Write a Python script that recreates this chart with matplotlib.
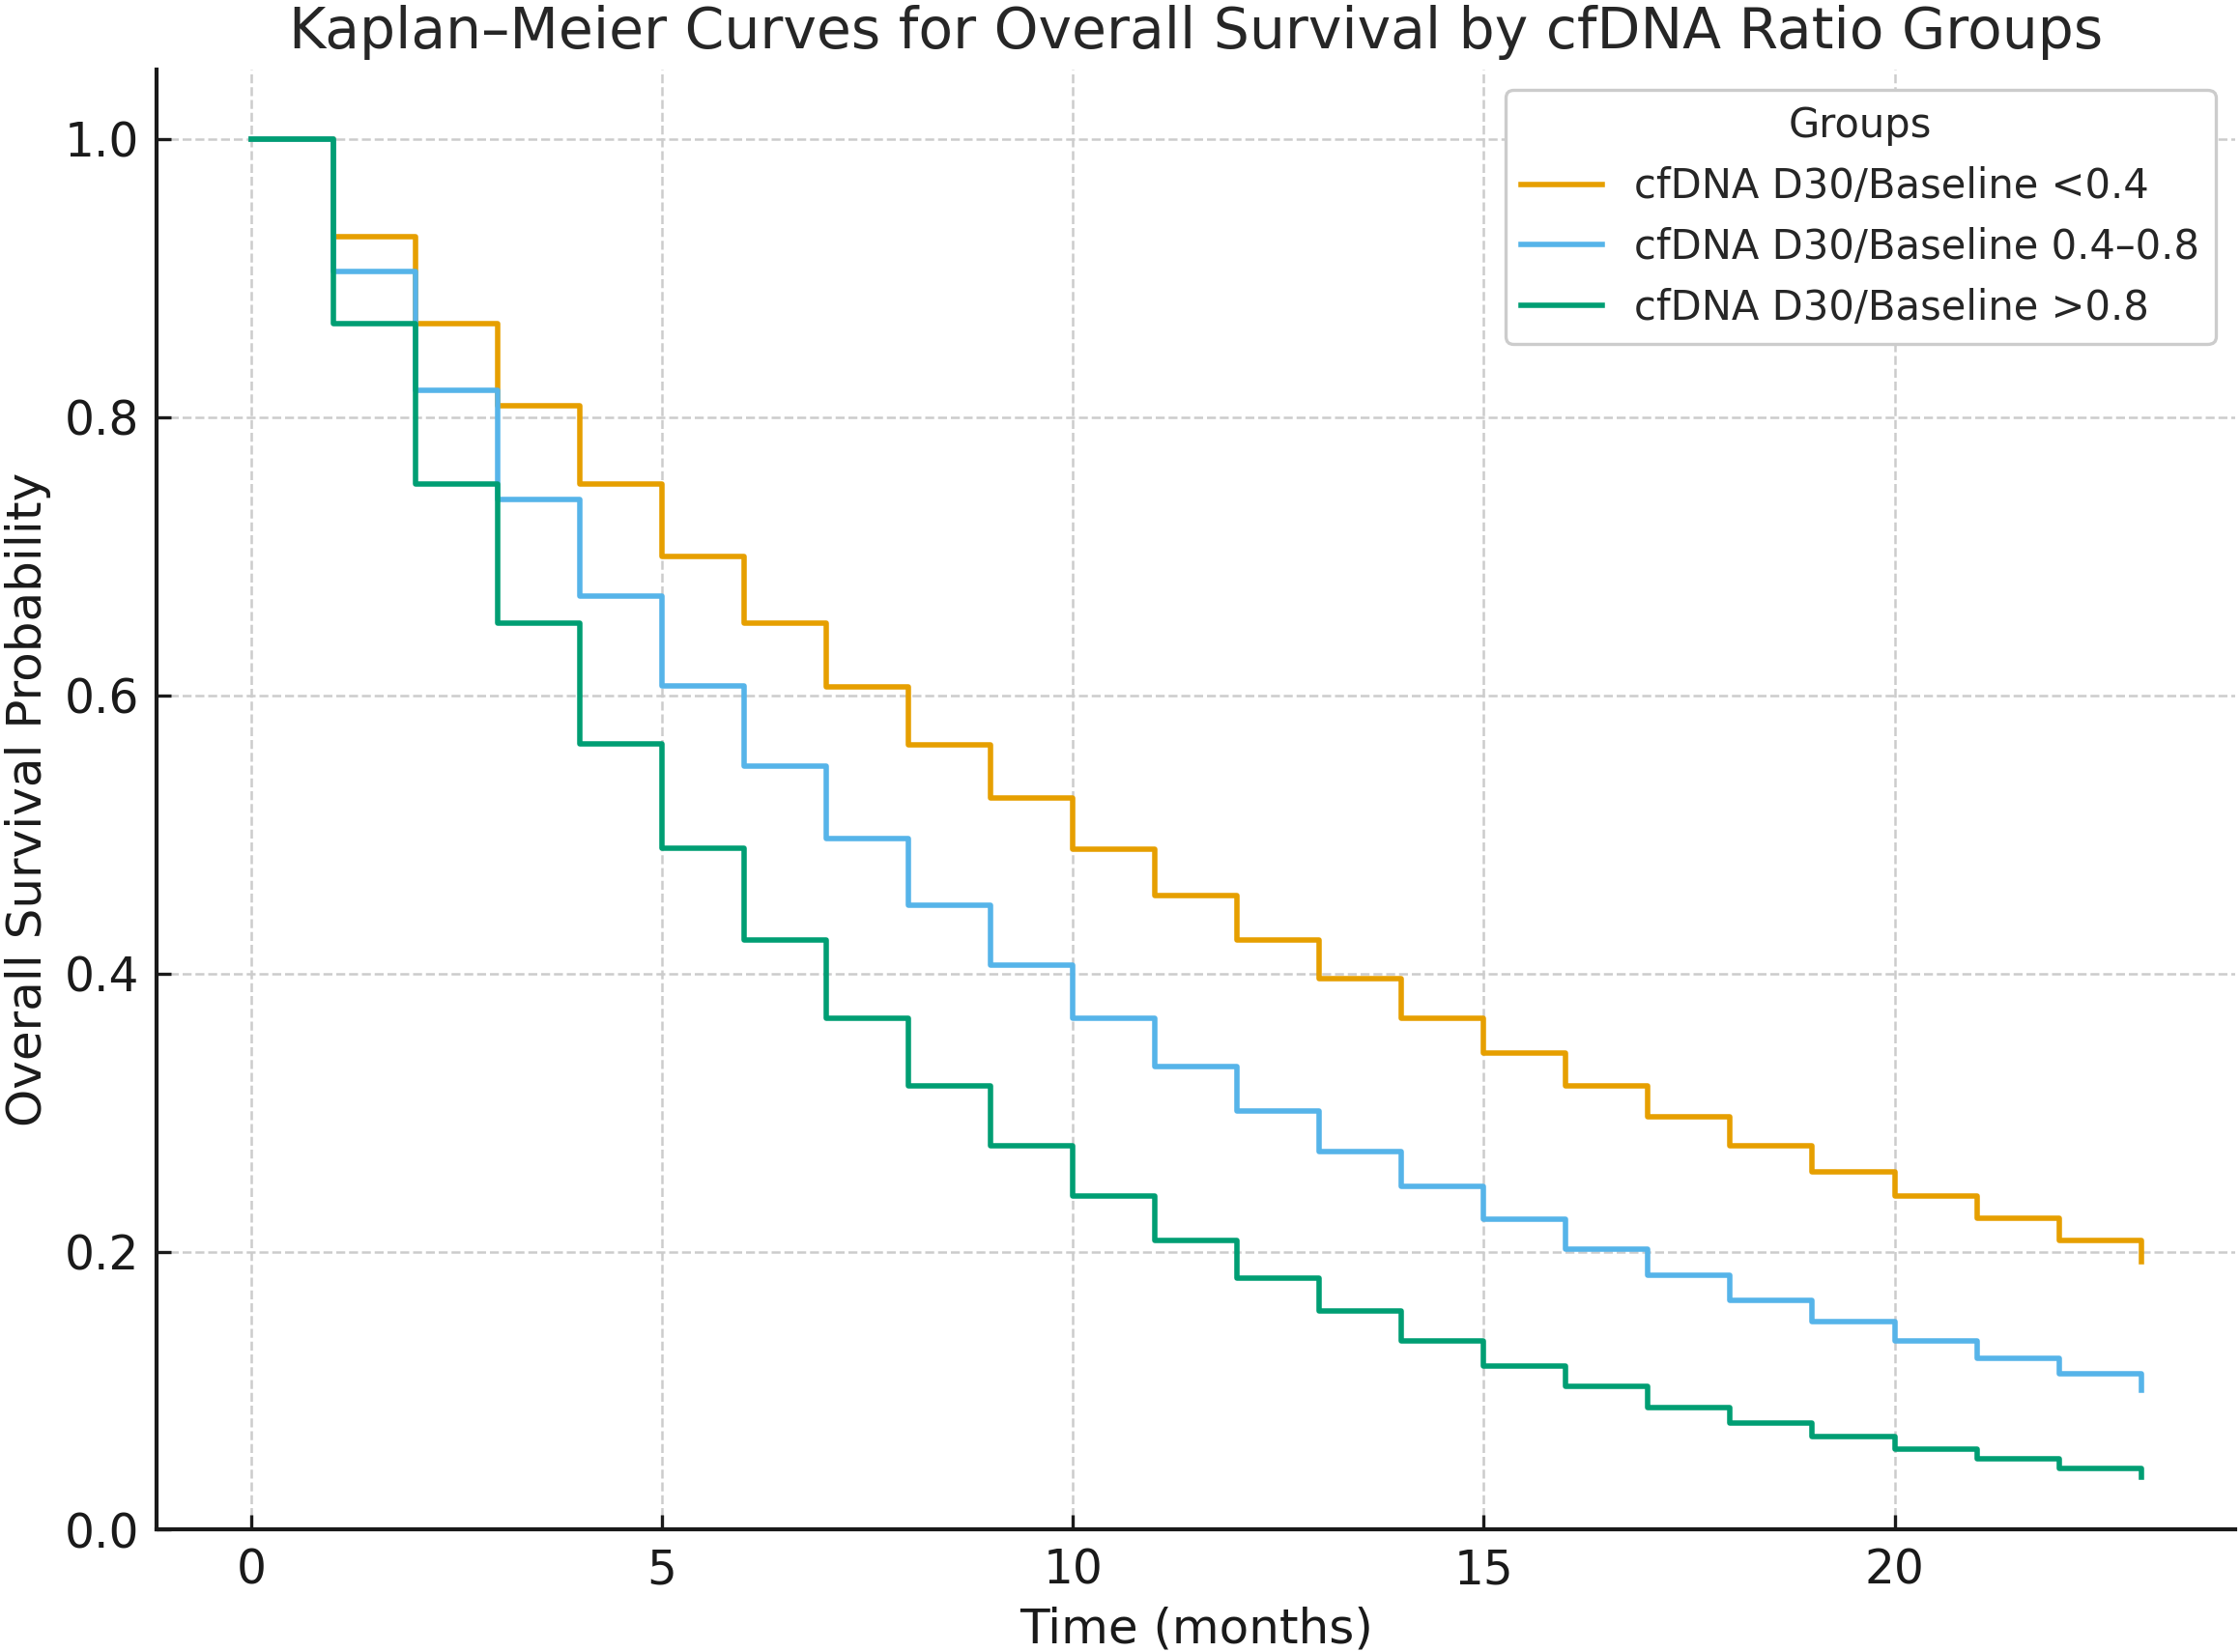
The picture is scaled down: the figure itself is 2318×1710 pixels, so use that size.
import matplotlib.pyplot as plt

# months (event times) and survival estimates
meses = list(range(0, 24))
surv_bajo = [1.0, 0.930, 0.867, 0.808, 0.752, 0.700, 0.652, 0.606, 0.564, 0.526, 0.489, 0.456,
             0.424, 0.396, 0.368, 0.343, 0.319, 0.297, 0.276, 0.257, 0.240, 0.224, 0.208, 0.193]
surv_medio = [1.0, 0.905, 0.819, 0.741, 0.671, 0.607, 0.549, 0.497, 0.449, 0.406, 0.368, 0.333,
              0.301, 0.272, 0.247, 0.223, 0.202, 0.183, 0.165, 0.150, 0.136, 0.123, 0.112, 0.100]
surv_alto = [1.0, 0.867, 0.752, 0.652, 0.565, 0.490, 0.424, 0.368, 0.319, 0.276, 0.240, 0.208,
             0.181, 0.157, 0.136, 0.118, 0.103, 0.088, 0.077, 0.067, 0.058, 0.051, 0.044, 0.038]

grupos = ["cfDNA D30/Baseline <0.4", "cfDNA D30/Baseline 0.4–0.8", "cfDNA D30/Baseline >0.8"]
colores = ["#E69F00", "#56B4E9", "#009E73"]


def main():
    plt.rcParams['font.family'] = ['DejaVu Sans']
    fig = plt.figure(figsize=(11.59, 8.55), dpi=200)
    ax = fig.add_axes([0.070, 0.074, 0.928, 0.884])

    for surv, nombre, color in zip([surv_bajo, surv_medio, surv_alto], grupos, colores):
        ax.step(meses, surv, where='post', color=color, linewidth=2.0, label=nombre)

    ax.set_xlim(-1.15, 24.15)
    ax.set_ylim(0, 1.05)
    ax.set_xticks([0, 5, 10, 15, 20])
    ax.set_yticks([0.0, 0.2, 0.4, 0.6, 0.8, 1.0])

    ax.grid(True, linestyle='--', color='#cccccc', linewidth=0.9)
    ax.set_axisbelow(True)
    for lado in ['top', 'right']:
        ax.spines[lado].set_visible(False)
    for lado in ['left', 'bottom']:
        ax.spines[lado].set_linewidth(1.5)
        ax.spines[lado].set_color('#1a1a1a')
    ax.tick_params(direction='in', length=5.5, width=1.2, labelsize=17.5, colors='#1a1a1a', pad=6.5)

    ax.set_title("Kaplan–Meier Curves for Overall Survival by cfDNA Ratio Groups",
                 fontsize=21, color='#262626', pad=8)
    ax.set_xlabel("Time (months)", fontsize=18, color='#1a1a1a', labelpad=4.5)
    ax.set_ylabel("Overall Survival Probability", fontsize=18, color='#1a1a1a', labelpad=5)

    leg = ax.legend(title="Groups", loc='upper right', fontsize=15, title_fontsize=15,
                    frameon=True, fancybox=True, edgecolor='#cccccc', framealpha=1.0)
    leg.get_frame().set_linewidth(1.2)
    for t in leg.get_texts():
        t.set_color('#262626')
    leg.get_title().set_color('#262626')

    fig.savefig("out.png", dpi=200)


if __name__ == "__main__":
    main()
